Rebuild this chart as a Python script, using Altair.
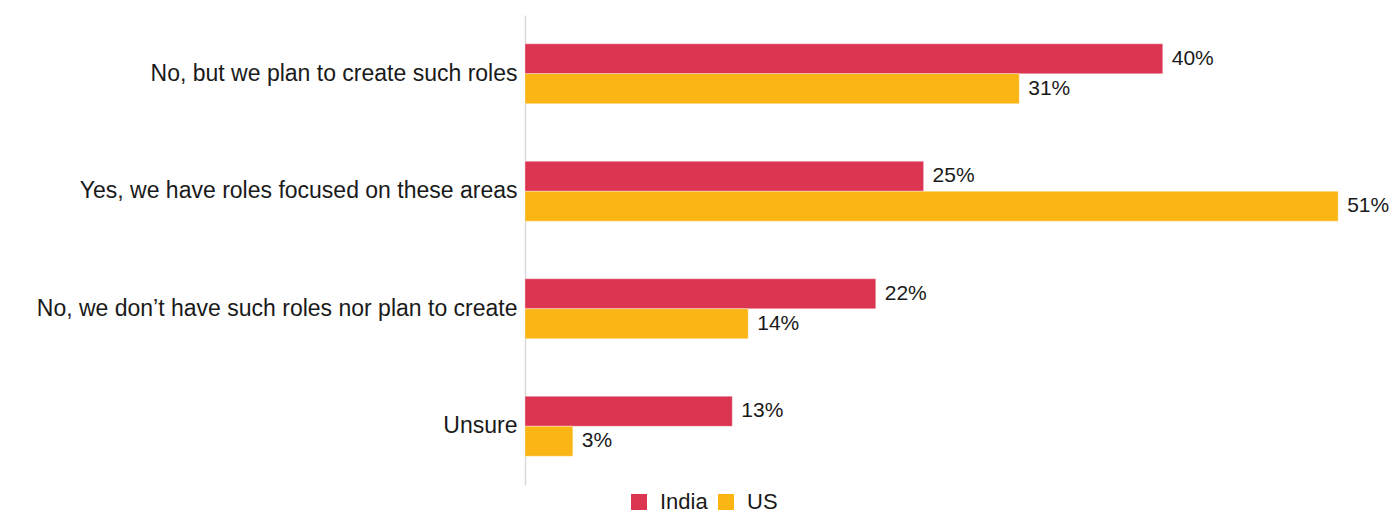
import altair as alt
import pandas as pd

categories = [
    "No, but we plan to create such roles",
    "Yes, we have roles focused on these areas",
    "No, we don\u2019t have such roles nor plan to create",
    "Unsure",
]
series = ["India", "US"]
india = [40, 25, 22, 13]
us = [31, 51, 14, 3]

rows = []
for c, i, u in zip(categories, india, us):
    rows.append({"category": c, "series": "India", "value": i})
    rows.append({"category": c, "series": "US", "value": u})
df = pd.DataFrame(rows)
df["label"] = df["value"].astype(str) + "%"

FONT = "Liberation Sans"
FS = 23
colors = ["#DB3552", "#FBB515"]

y = alt.Y("category:N", sort=categories, title=None,
          scale=alt.Scale(paddingInner=0.49, paddingOuter=0.245),
          axis=alt.Axis(ticks=False, labelPadding=8, labelFontSize=FS, labelFont=FONT,
                        labelColor="#1a1a1a", labelLimit=0, domainColor="#d9d9d9",
                        domainWidth=1.5, grid=False))
x = alt.X("value:Q", title=None, scale=alt.Scale(domain=[0, 53.5], nice=False), axis=None)
yoff = alt.YOffset("series:N", sort=series, scale=alt.Scale(paddingInner=0, paddingOuter=0))

bars = alt.Chart(df).mark_bar(stroke="white", strokeOpacity=0.35, strokeWidth=1).encode(
    y=y, x=x, yOffset=yoff,
    color=alt.Color("series:N", sort=series, title=None,
                    scale=alt.Scale(domain=series, range=colors),
                    legend=alt.Legend(orient="none", direction="horizontal",
                                      legendX=103, legendY=476,
                                      symbolType="square", symbolSize=256,
                                      symbolStrokeWidth=0, labelFontSize=22,
                                      labelFont=FONT, labelColor="#1a1a1a",
                                      labelOffset=10, columnPadding=7)),
)

labels = alt.Chart(df).mark_text(align="left", baseline="middle", dx=9,
                                 fontSize=21, font=FONT, color="#1a1a1a").encode(
    y=y, x=x, yOffset=yoff, text="label:N"
)

chart = (bars + labels).properties(
    width=853, height=470,
    autosize=alt.AutoSizeParams(type="none"),
    padding={"left": 517, "top": 7, "right": 14, "bottom": 28},
).configure_view(strokeWidth=0, stroke=None)

chart.save("out.html", embed_options={"renderer": "svg", "actions": False})
